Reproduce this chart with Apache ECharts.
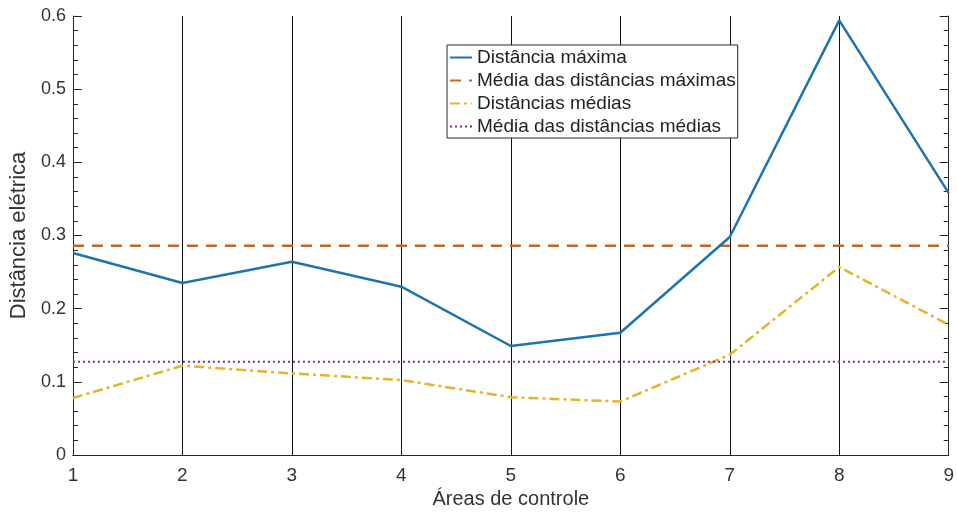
<!DOCTYPE html>
<html>
<head>
<meta charset="utf-8">
<script src="https://cdn.jsdelivr.net/npm/echarts@6/dist/echarts.min.js"></script>
<style>html,body{margin:0;padding:0;background:#fff}#c{width:957px;height:517px}</style>
</head>
<body>
<div id="c"></div>
<script>
var areas = [1, 2, 3, 4, 5, 6, 7, 8, 9];
var distMax = [0.276, 0.235, 0.264, 0.230, 0.149, 0.167, 0.298, 0.594, 0.358];
var distMed = [0.078, 0.122, 0.1115, 0.1025, 0.079, 0.073, 0.137, 0.257, 0.178];
var meanMax = 0.286;
var meanMed = 0.1275;
var names = ['Distância máxima', 'Média das distâncias máximas', 'Distâncias médias', 'Média das distâncias médias'];
var yTicks = [0, 0.1, 0.2, 0.3, 0.4, 0.5, 0.6];

function pairs(xs, ys) { return xs.map(function (x, i) { return [x, ys[i]]; }); }
function flat(v) { return [[areas[0], v], [areas[areas.length - 1], v]]; }

var font = 'Liberation Sans, Arial, sans-serif';
var chart = echarts.init(document.getElementById('c'));
chart.setOption({
  animation: false,
  backgroundColor: '#ffffff',
  grid: { left: 70, right: 7, top: 16, bottom: 62 },
  legend: {
    orient: 'vertical', left: 447, top: 45,
    data: names,
    backgroundColor: '#ffffff',
    borderColor: '#262626', borderWidth: 1,
    padding: [3, 2, 2, 2],
    itemWidth: 22, itemHeight: 14, itemGap: 4,
    itemStyle: { opacity: 0 },
    textStyle: { fontFamily: font, fontSize: 19, lineHeight: 19, color: '#222', padding: [0, 0, 0, 0] }
  },
  xAxis: [{
    type: 'value', min: 1, max: 9, interval: 1,
    name: 'Áreas de controle', nameLocation: 'middle', nameGap: 33,
    nameTextStyle: { fontFamily: font, fontSize: 20, color: '#333' },
    axisLine: { show: true, onZero: false, lineStyle: { color: '#262626', width: 1 } },
    axisTick: { show: false },
    axisLabel: { fontFamily: font, fontSize: 19, color: '#333', margin: 11 },
    splitLine: { show: true, lineStyle: { color: '#111', width: 1 } }
  }, {
    type: 'value', min: 1, max: 9, interval: 1, position: 'top',
    axisLine: { show: true, lineStyle: { color: '#262626', width: 1 } },
    axisTick: { show: false }, axisLabel: { show: false }, splitLine: { show: false }
  }],
  yAxis: [{
    type: 'value', min: 0, max: 0.6, interval: 0.1,
    name: 'Distância elétrica', nameLocation: 'middle', nameGap: 34,
    nameTextStyle: { fontFamily: font, fontSize: 22, color: '#333' },
    axisLine: { show: true, lineStyle: { color: '#262626', width: 1 } },
    axisTick: { show: true, inside: true, length: 9, lineStyle: { color: '#262626' } },
    minorTick: { show: true, splitNumber: 5, length: 5, lineStyle: { color: '#262626' } },
    axisLabel: {
      fontFamily: font, fontSize: 18, color: '#333', margin: 7,
      formatter: function (v) { var t = yTicks.filter(function (k) { return Math.abs(k - v) < 1e-9; }); return t.length ? String(+t[0].toFixed(1)) : ''; }
    },
    splitLine: { show: false }
  }, {
    type: 'value', min: 0, max: 0.6, interval: 0.1, position: 'right',
    axisLine: { show: true, lineStyle: { color: '#262626', width: 1 } },
    axisTick: { show: true, inside: true, length: 9, lineStyle: { color: '#262626' } },
    minorTick: { show: true, splitNumber: 5, length: 5, lineStyle: { color: '#262626' } },
    axisLabel: { show: false }, splitLine: { show: false }
  }],
  series: [{
    name: names[0], type: 'line', data: pairs(areas, distMax), symbol: 'none', z: 5,
    color: '#1d74b0',
    lineStyle: { color: '#1d74b0', width: 2.5 }
  }, {
    name: names[1], type: 'line', data: flat(meanMax), symbol: 'none', z: 4,
    color: '#c0662a',
    lineStyle: { color: '#c0662a', width: 2.5, type: [11, 8] }
  }, {
    name: names[2], type: 'line', data: pairs(areas, distMed), symbol: 'none', z: 4,
    color: '#e3b52a',
    lineStyle: { color: '#e3b52a', width: 2.5, type: [10, 4, 3, 4] }
  }, {
    name: names[3], type: 'line', data: flat(meanMed), symbol: 'none', z: 4,
    color: '#7e2f8e',
    lineStyle: { color: '#7e2f8e', width: 2, type: [2, 3] }
  }]
});
</script>
</body>
</html>
